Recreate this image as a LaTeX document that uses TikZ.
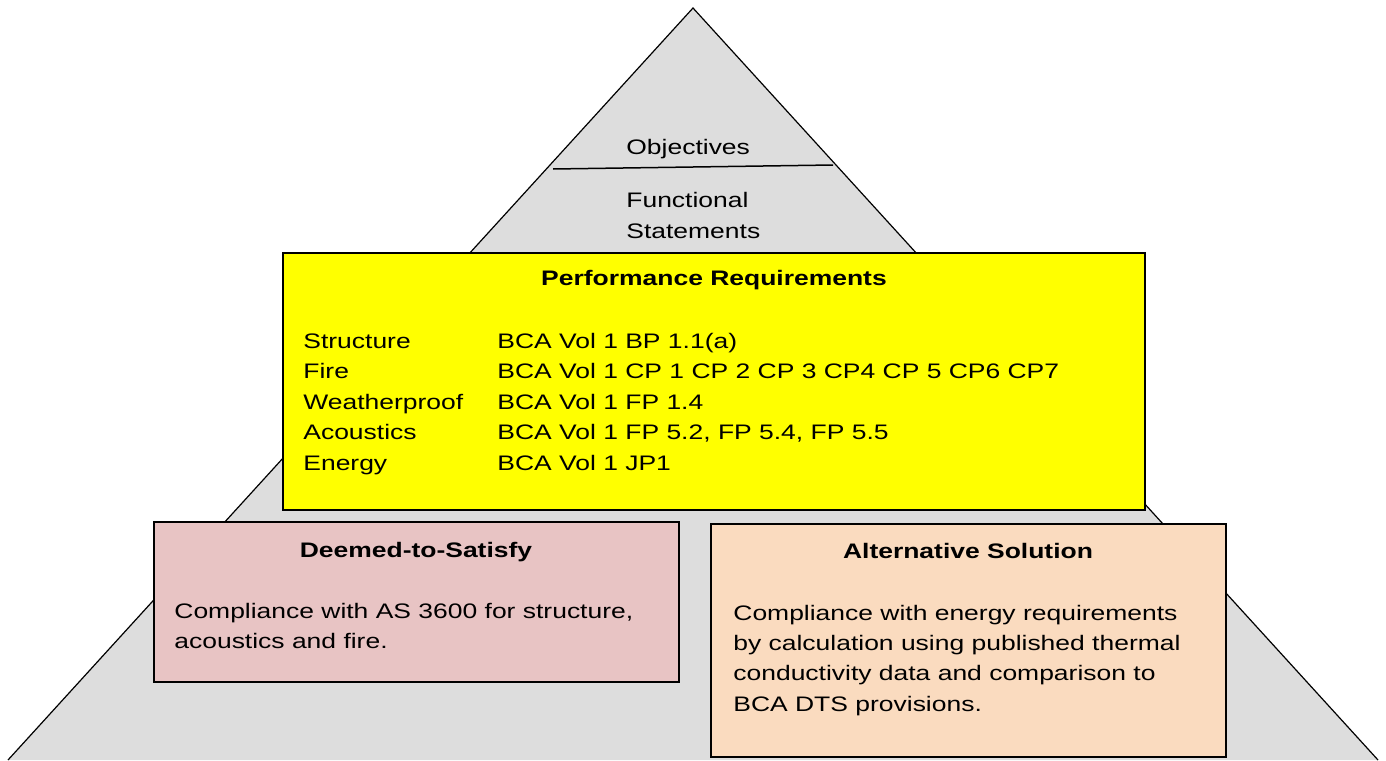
\documentclass[tikz,border=0pt]{standalone}
\usepackage{fontspec}
\setmainfont{Liberation Sans}[FakeStretch=1.26]
\definecolor{pyrgrey}{HTML}{DDDDDD}
\definecolor{reqyellow}{HTML}{FFFF00}
\definecolor{dtspink}{HTML}{E8C4C4}
\definecolor{altpeach}{HTML}{FADBBF}

\begin{document}
\begin{tikzpicture} [x=0.5pt, y=-0.5pt,
  every node/.style={inner sep=0pt, font=\fontsize{10.5}{15}\selectfont},
  head/.style={anchor=base, font=\fontsize{10.5}{15}\selectfont\bfseries},
  txt/.style={anchor=base west},
  box/.style={draw, line width=0.75pt}]
 \useasboundingbox (0,0) rectangle (1386,760);
 \clip (0,0) rectangle (1386,760);
 % pyramid
 \fill [pyrgrey] (8,760) -- (693,8) -- (1378,760) -- cycle;
 \draw [line width=0.6pt] (8,760) -- (693,8) -- (1378,760);
 \draw [line width=0.75pt] (553,169) -- (833,165);
 \draw (626,154) node (obj) [txt] {Objectives};
 \draw (626,207) node (fun1) [txt] {Functional};
 \draw (626,238) node (fun2) [txt] {Statements};
 % performance requirements
 \draw [box, fill=reqyellow] (283,253) rectangle (1145,510);
 \draw (714,285) node (perf) [head] {Performance Requirements};
 \foreach \lab/\val [count=\i] in {Structure/{BCA Vol 1 BP 1.1(a)},
   Fire/{BCA Vol 1 CP 1 CP 2 CP 3 CP4 CP 5 CP6 CP7},
   Weatherproof/{BCA Vol 1 FP 1.4},
   Acoustics/{BCA Vol 1 FP 5.2, FP 5.4, FP 5.5},
   Energy/{BCA Vol 1 JP1}}
 {
  \draw (303,{348+30.5*(\i-1)}) node (lab\i) [txt] {\lab};
  \draw (497,{348+30.5*(\i-1)}) node (val\i) [txt] {\val};
 }
 % deemed-to-satisfy
 \draw [box, fill=dtspink] (154,522) rectangle (679,682);
 \draw (416,557) node (dts) [head] {Deemed-to-Satisfy};
 \draw (174,618) node (dts1) [txt] {Compliance with AS 3600 for structure,};
 \draw (174,648) node (dts2) [txt] {acoustics and fire.};
 % alternative solution
 \draw [box, fill=altpeach] (711,524) rectangle (1226,757);
 \draw (968,558) node (alt) [head] {Alternative Solution};
 \draw (733,620) node (alt1) [txt] {Compliance with energy requirements};
 \draw (733,650) node (alt2) [txt] {by calculation using published thermal};
 \draw (733,680) node (alt3) [txt] {conductivity data and comparison to};
 \draw (733,711) node (alt4) [txt] {BCA DTS provisions.};
\end{tikzpicture}
\end{document}
